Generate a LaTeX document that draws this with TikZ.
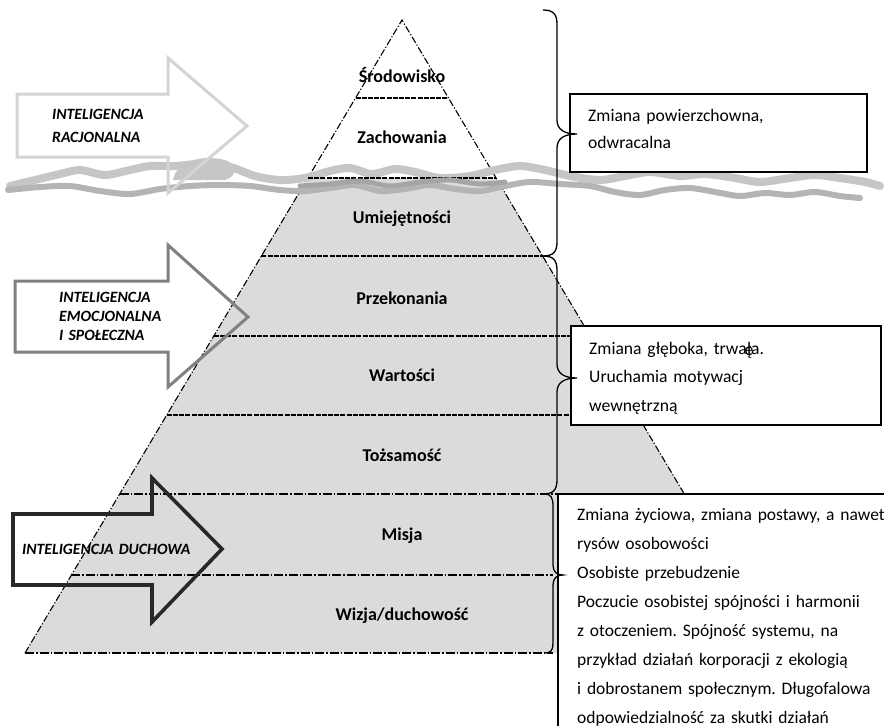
\documentclass[tikz,border=0pt]{standalone}
\usepackage{fontspec}
\setmainfont{Carlito}
\frenchspacing
\definecolor{pyrfill}{RGB}{218,219,221}
\definecolor{bandlight}{RGB}{198,198,198}
\definecolor{bandmid}{RGB}{180,180,180}
\definecolor{banddark}{RGB}{165,165,165}
\definecolor{arrowlight}{RGB}{212,212,212}
\definecolor{arrowmid}{RGB}{128,128,128}
\definecolor{arrowdark}{RGB}{40,40,40}
\begin{document}
\begin{tikzpicture}[x=1pt,y=-1pt,
  pyredge/.style={line width=1.1pt, dash pattern=on 7pt off 2pt on 1.2pt off 2pt},
  layerline/.style={line width=1.3pt, dash pattern=on 5pt off 1.2pt},
  lowline/.style={line width=1.1pt, dash pattern=on 9pt off 2pt on 1.5pt off 2pt},
  lbl/.style={font=\fontsize{18}{22}\selectfont\bfseries, anchor=base, inner sep=0pt},
  infobox/.style={draw, line width=1.1pt, fill=white},
  infotext/.style={anchor=base west, inner sep=0pt, align=left, text width=330pt},
  arrowtext/.style={anchor=base west, inner sep=0pt, align=left, text width=220pt},
  bracestyle/.style={line width=1.3pt},
  bandstroke/.style={line cap=round, line join=round},
  bigarrow/.style={line width=3pt, line join=miter}]
\useasboundingbox (0,0) rectangle (884,726);

% pyramid corners
\coordinate (apex) at (402,20);
\coordinate (baseL) at (25,653);
\coordinate (edgeR) at (684.3,494);

% gray fill below the water line
\fill[pyrfill] (307.9,178) -- (496.1,178) -- (edgeR) -- (558,494) -- (558,653) -- (baseL) -- cycle;

% layer lines
\coordinate (l1a) at (355.5,98);  \coordinate (l1b) at (448.5,98);
\coordinate (l2a) at (307.9,178); \coordinate (l2b) at (496.1,178);
\coordinate (l3a) at (261.4,256); \coordinate (l3b) at (542.6,256);
\coordinate (l4a) at (213.8,336); \coordinate (l4b) at (590.2,336);
\coordinate (l5a) at (166.7,415); \coordinate (l5b) at (637.3,415);
\coordinate (l6a) at (119.7,494); \coordinate (l6b) at (558,494);
\coordinate (l7a) at (71.4,575);  \coordinate (l7b) at (553,575);
\coordinate (l8b) at (553,653);
\draw[layerline] (l1a) -- (l1b);
\draw[layerline] (l3a) -- (l3b);
\draw[layerline] (l4a) -- (l4b);
\draw[layerline] (l5a) -- (l5b);
\draw[lowline] (l6a) -- (l6b);
\draw[lowline] (l7a) -- (l7b);
\draw[lowline] (baseL) -- (l8b);

% pyramid edges
\draw[pyredge] (baseL) -- (apex) -- (edgeR);

% water band
\draw[bandstroke, bandlight, line width=8pt] plot[smooth] coordinates {(10,186) (35,180) (60,174) (80,170) (105,175) (130,170) (150,166) (175,166) (200,164) (230,167) (255,176) (280,180) (305,178) (330,171) (350,168) (372,174) (395,169) (415,172) (440,178) (470,176) (495,170) (520,166) (545,170) (570,176) (600,180) (625,176) (650,172) (680,176) (705,174) (735,178) (760,182) (790,178) (815,175) (840,178) (865,182) (880,186)};
\draw[layerline] (l2a) -- (l2b);
\draw[bandstroke, bandmid, line width=6pt] plot[smooth] coordinates {(8,190) (40,187) (70,186) (100,191) (130,194) (160,189) (190,186) (220,185) (250,186) (280,190) (305,191) (330,188) (355,185) (380,191) (405,189) (430,185) (455,189) (480,191) (505,186) (530,182) (560,184) (590,186) (615,192) (640,195) (665,190) (690,188) (715,192) (740,196) (765,193) (790,195) (815,192) (840,196) (860,198)};
\draw[bandstroke, banddark, line width=5pt] plot[smooth] coordinates {(300,186) (330,184) (360,181) (390,186) (420,182) (450,180) (480,184) (505,182)};
\fill[bandlight] (173,180) .. controls (176,162) and (200,154) .. (225,160) .. controls (238,164) and (238,176) .. (225,180) -- cycle;

% pyramid labels
\node[lbl] (srodowisko) at (402,82) {Środowisko};
\node[lbl] (zachowania) at (402,143) {Zachowania};
\node[lbl] (umiejetnosci) at (402,223) {Umiejętności};
\node[lbl] (przekonania) at (402,304) {Przekonania};
\node[lbl] (wartosci) at (402,381) {Wartości};
\node[lbl] (tozsamosc) at (402,461) {Tożsamość};
\node[lbl] (misja) at (402,540) {Misja};
\node[lbl] (wizja) at (402,620) {Wizja/duchowość};

% info boxes
\draw[infobox] (570,94) rectangle (867,172);
\draw[infobox] (571,326) rectangle (881,425);
\coordinate (b3top) at (884,494);
\coordinate (b3bot) at (558,726);
\draw[line width=1.1pt] (b3bot) -- (l6b) -- (b3top);

\node[infotext, font=\fontsize{17.6}{27.6}\selectfont] (txt1) at (588,121)
  {Zmiana powierzchowna,\\odwracalna};
\node[infotext, font=\fontsize{17.6}{28.7}\selectfont] (txt2) at (589,354)
  {Zmiana głęboka, trwa\rlap{\kern-2.2pt\raisebox{-1pt}{ę}}ła.\\Uruchamia motywacj\\wewnętrzną};
\node[infotext, font=\fontsize{17.5}{29}\selectfont] (txt3) at (577,520)
  {Zmiana życiowa, zmiana postawy, a nawet\\rysów osobowości\\Osobiste przebudzenie\\Poczucie osobistej spójności i harmonii\\z otoczeniem. Spójność systemu, na\\przykład działań korporacji z ekologią\\i dobrostanem społecznym. Długofalowa\\odpowiedzialność za skutki działań};

% braces
\draw[bracestyle] (543,10) .. controls (553,10) and (557,14) .. (557,24) -- (557,120)
  .. controls (557,130) and (565,134) .. (577,134)
  .. controls (565,134) and (557,138) .. (557,148) -- (557,242)
  .. controls (557,252) and (553,256) .. (543,256);
\draw[bracestyle] (543,256) .. controls (553,256) and (557,260) .. (557,270) -- (557,364)
  .. controls (557,374) and (565,378) .. (577,378)
  .. controls (565,378) and (557,382) .. (557,392) -- (557,480)
  .. controls (557,490) and (553,494) .. (543,494);
\draw[bracestyle] (545,494) .. controls (551,494) and (553,498) .. (553,506) -- (553,565)
  .. controls (553,572) and (557,575) .. (563,575)
  .. controls (557,575) and (553,578) .. (553,585) -- (553,643)
  .. controls (553,650) and (551,653) .. (545,653);

% big arrows
\draw[bigarrow, arrowlight] (17,94) -- (168,94) -- (168,58) -- (247,126) -- (168,193) -- (168,157) -- (17,157) -- cycle;
\draw[bigarrow, arrowmid] (15,281) -- (168,281) -- (168,245) -- (248,317) -- (168,387) -- (168,352) -- (15,352) -- cycle;
\draw[bigarrow, arrowdark, line width=3.6pt] (13,514) -- (152,514) -- (152,478) -- (222,549) -- (152,622) -- (152,585) -- (13,585) -- cycle;

\node[arrowtext, font=\fontsize{15.7}{23}\selectfont\bfseries\itshape] (ir) at (52,119) {INTELIGENCJA\\RACJONALNA};
\node[arrowtext, font=\fontsize{15.7}{19.2}\selectfont\bfseries\itshape] (ie) at (59,302) {INTELIGENCJA\\EMOCJONALNA\\I SPOŁECZNA};
\node[arrowtext, font=\fontsize{15.7}{19.2}\selectfont\bfseries\itshape] (id) at (22,554) {INTELIGENCJA DUCHOWA};
\end{tikzpicture}
\end{document}
